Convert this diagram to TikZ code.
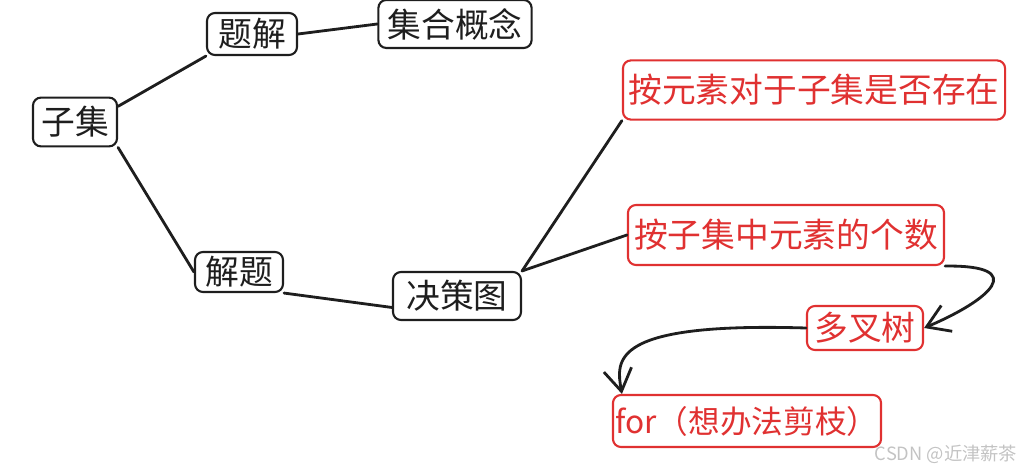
\documentclass[tikz,border=0pt]{standalone}
\usepackage{fontspec}
\newfontfamily\cjk{Noto Sans CJK SC}
\usepackage{tikz}
\usetikzlibrary{arrows.meta}
\definecolor{inkblack}{RGB}{30,30,30}
\definecolor{markred}{RGB}{224,49,49}
\definecolor{wmgray}{RGB}{195,195,195}
\tikzset{
    topic/.style={rectangle, rounded corners=0.2cm, draw=inkblack, line width=1.5pt,
                  inner sep=1pt, text=inkblack, font=\cjk\fontsize{24}{26}\selectfont},
    pick/.style={topic, draw=markred, text=markred},
    link/.style={inkblack, line width=2pt, line cap=round},
    arrow/.style={link, -{Straight Barb[length=5.5mm, width=7mm]}}
}
\begin{document}
\begin{tikzpicture}[x=0.025cm, y=-0.025cm]
    \useasboundingbox (0,0) rectangle (1026,472);

    % Black topics
    \node[topic, minimum width=2.1cm, minimum height=1.22cm] (zj) at (75,122) {子集};
    \node[topic, minimum width=2.25cm, minimum height=1.05cm] (tj) at (252,34) {题解};
    \node[topic, minimum width=3.83cm, minimum height=1.2cm] (jh) at (455,24) {集合概念};
    \node[topic, minimum width=2.2cm, minimum height=1.0cm] (jt) at (239,272) {解题};
    \node[topic, minimum width=3.2cm, minimum height=1.2cm] (jc) at (457,296) {决策图};

    % Red branches
    \node[pick, minimum width=9.55cm, minimum height=1.48cm] (ra) at (814,90) {按元素对于子集是否存在};
    \node[pick, minimum width=7.9cm, minimum height=1.5cm] (rb) at (786,235) {按子集中元素的个数};
    \node[pick, minimum width=2.9cm, minimum height=1.1cm] (dc) at (865,328) {多叉树};
    \node[pick, minimum width=6.7cm, minimum height=1.3cm, font=\cjk\fontsize{22.5}{25}\selectfont] (fr) at (747,421) {for（想办法剪枝）};

    % Links
    \draw[link] (zj.20) -- (tj.south west);
    \draw[link] (zj.south east) -- (jt.west);
    \draw[link] (tj.east) -- (jh.west);
    \draw[link] (jt.south east) -- (jc.190);
    \draw[link] (jc.north east) -- (ra.south west);
    \draw[link] (jc.north east) -- (rb.west);

    % Arrows
    \draw[arrow] (rb.south east) .. controls (1030,265) and (990,300) .. (dc.east);
    \draw[arrow] (dc.west) .. controls (610,322) and (616,360) .. ([xshift=0.25cm]fr.north west);

    % Watermark
    \node[font=\cjk\fontsize{13}{15}\selectfont, text=wmgray] (wm) at (946,454) {CSDN @近津薪茶};
\end{tikzpicture}
\end{document}
